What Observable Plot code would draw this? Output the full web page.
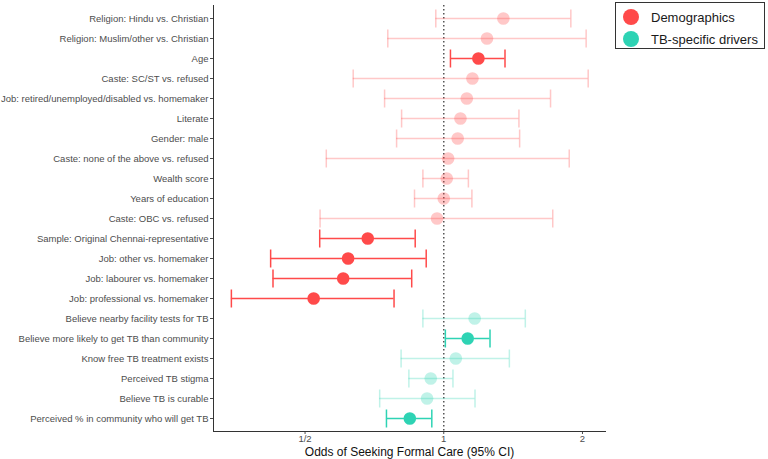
<!DOCTYPE html>
<html><head><meta charset="utf-8">
<script src="https://cdn.jsdelivr.net/npm/d3@7"></script>
<script src="https://cdn.jsdelivr.net/npm/@observablehq/plot@0.6"></script>
<style>
body{margin:0;background:#fff;font-family:"Liberation Sans",Arial,sans-serif;}
#wrap{position:relative;width:768px;height:459px;}
#legend{position:absolute;left:615px;top:2px;width:150px;height:47px;border:1px solid #333;box-sizing:border-box;background:#fff;}
.li{position:absolute;left:7px;display:flex;align-items:center;font-size:13px;color:#1a1a1a;white-space:nowrap;}
.sw{width:16px;height:16px;border-radius:50%;margin-right:12px;flex:none;}
</style></head>
<body><div id="wrap"><div id="chart"></div>
<div id="legend">
<div class="li" style="top:6px"><span class="sw" style="background:#FF4A4A"></span>Demographics</div>
<div class="li" style="top:28px"><span class="sw" style="background:#2ED3B4"></span>TB-specific drivers</div>
</div></div>
<script>
const labels = [
"Religion: Hindu vs. Christian",
"Religion: Muslim/other vs. Christian",
"Age",
"Caste: SC/ST vs. refused",
"Job: retired/unemployed/disabled vs. homemaker",
"Literate",
"Gender: male",
"Caste: none of the above vs. refused",
"Wealth score",
"Years of education",
"Caste: OBC vs. refused",
"Sample: Original Chennai-representative",
"Job: other vs. homemaker",
"Job: labourer vs. homemaker",
"Job: professional vs. homemaker",
"Believe nearby facility tests for TB",
"Believe more likely to get TB than community",
"Know free TB treatment exists",
"Perceived TB stigma",
"Believe TB is curable",
"Perceived % in community who will get TB"
];
const odds  = [1.347,1.241,1.189,1.154,1.122,1.087,1.072,1.022,1.015,1.000,0.967,0.684,0.620,0.605,0.522,1.167,1.127,1.062,0.937,0.920,0.844];
const lower = [0.961,0.756,1.034,0.636,0.744,0.810,0.790,0.556,0.901,0.864,0.539,0.538,0.421,0.426,0.346,0.901,1.008,0.808,0.840,0.726,0.751];
const upper = [1.887,2.037,1.358,2.058,1.705,1.456,1.461,1.872,1.131,1.151,1.724,0.867,0.916,0.852,0.780,1.503,1.260,1.388,1.047,1.169,0.942];
const group = ["Demographics","Demographics","Demographics","Demographics","Demographics","Demographics","Demographics","Demographics","Demographics","Demographics","Demographics","Demographics","Demographics","Demographics","Demographics","TB-specific drivers","TB-specific drivers","TB-specific drivers","TB-specific drivers","TB-specific drivers","TB-specific drivers"];
const significant = [false,false,true,false,false,false,false,false,false,false,false,true,true,true,true,false,true,false,false,false,true];
const groups = ["Demographics","TB-specific drivers"];
const colors = ["#FF4A4A","#2ED3B4"];
const xTicks = [0.5,1,2];
const xTickLabels = ["1/2","1","2"];
const refLine = [1];
const xDomain = [2**-1.66, 2**1.166];

const data = labels.map((l,i)=>({label:l,or:odds[i],lo:lower[i],hi:upper[i],group:group[i],op:significant[i]?1:0.3}));

// vertical bar symbol for error-bar caps
const capSymbol = {draw(ctx, size){ const r = Math.sqrt(size/Math.PI); ctx.moveTo(0,-r); ctx.lineTo(0,r); }};

const chart = Plot.plot({
  width:768, height:459,
  marginLeft:213, marginRight:163, marginTop:5, marginBottom:28,
  style:{fontFamily:'"Liberation Sans",Arial,sans-serif',fontSize:"9.5px",color:"#4D4D4D",background:"#fff"},
  x:{type:"log", base:2, domain:xDomain, label:null},
  y:{type:"point", domain:labels, padding:0.6, label:null},
  color:{domain:groups, range:colors},
  marks:[
    Plot.ruleX(refLine,{x:d=>d, stroke:"#555", strokeWidth:1.5, strokeDasharray:"1.5,2.5"}),
    Plot.ruleY(data,{y:"label",x1:"lo",x2:"hi",stroke:"group",strokeOpacity:"op",strokeWidth:1.5}),
    Plot.dot(data,{x:"lo",y:"label",symbol:capSymbol,r:9,stroke:"group",strokeOpacity:"op",strokeWidth:1.5,fill:"none"}),
    Plot.dot(data,{x:"hi",y:"label",symbol:capSymbol,r:9,stroke:"group",strokeOpacity:"op",strokeWidth:1.5,fill:"none"}),
    Plot.dot(data,{x:"or",y:"label",r:6.3,fill:"group",fillOpacity:"op",stroke:null}),
    Plot.axisY({tickSize:3, tickPadding:2, fontSize:9.5, color:"#4D4D4D", label:null}),
    Plot.axisX({ticks:xTicks, tickFormat:(d)=>xTickLabels[xTicks.indexOf(d)], tickSize:3, tickPadding:1, fontSize:9.5, color:"#4D4D4D", label:null}),
    Plot.frame({anchor:"bottom", stroke:"#333"}),
    Plot.frame({anchor:"left", stroke:"#333"}),
    Plot.text(["Odds of Seeking Formal Care (95% CI)"],{frameAnchor:"bottom",dy:24,fontSize:12,fill:"#111",text:d=>d})
  ]
});
document.getElementById("chart").appendChild(chart);
</script></body></html>
